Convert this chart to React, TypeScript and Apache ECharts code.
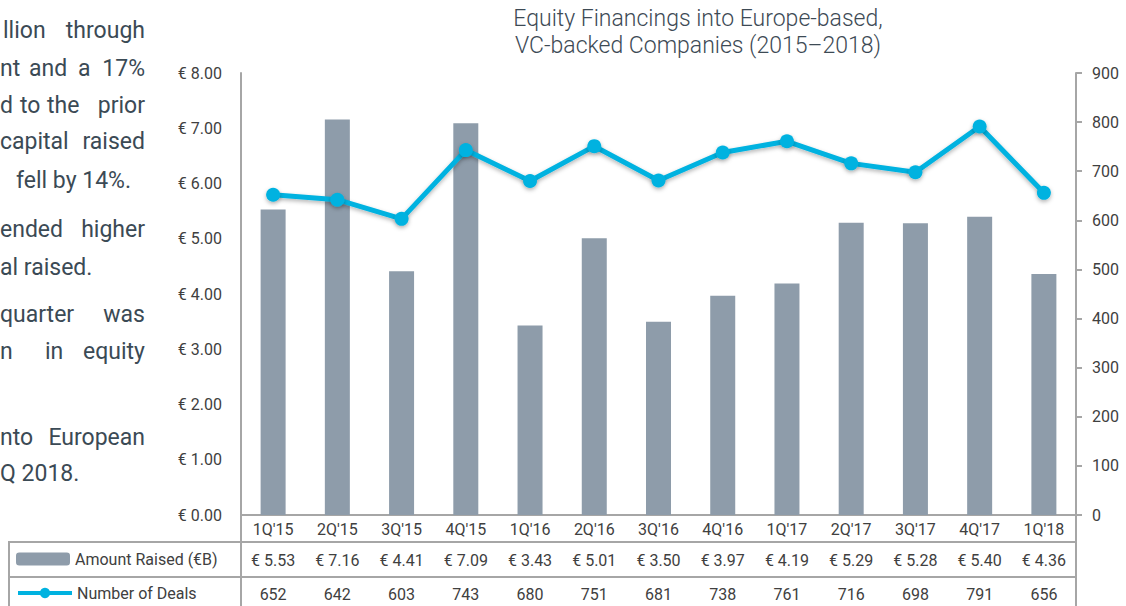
import React, { useEffect, useRef } from "react";
import * as echarts from "echarts";

const quarters = ["1Q'15", "2Q'15", "3Q'15", "4Q'15", "1Q'16", "2Q'16", "3Q'16", "4Q'16", "1Q'17", "2Q'17", "3Q'17", "4Q'17", "1Q'18"];
const amountRaised = [5.53, 7.16, 4.41, 7.09, 3.43, 5.01, 3.5, 3.97, 4.19, 5.29, 5.28, 5.4, 4.36];
const numberOfDeals = [652, 642, 603, 743, 680, 751, 681, 738, 761, 716, 698, 791, 656];
const titleLines = ["Equity Financings into Europe-based,", "VC-backed Companies (2015\u20132018)"];
const seriesNames = ["Amount Raised (\u20acB)", "Number of Deals"];

// side paragraph fragments (justified text clipped at the page's left edge)
// each word: [text, anchor x, align]
type Word = [string, number, "left" | "right"];
const sideLines: { y: number; words: Word[] }[] = [
  { y: 30, words: [["llion", 3, "left"], ["through", 145, "right"]] },
  { y: 68, words: [["nt", 0, "left"], ["and", 29, "left"], ["a", 78, "left"], ["17%", 145, "right"]] },
  { y: 105, words: [["d", 0, "left"], ["to", 20, "left"], ["the", 47, "left"], ["prior", 145, "right"]] },
  { y: 141, words: [["capital", 0, "left"], ["raised", 145, "right"]] },
  { y: 180, words: [["fell by 14%.", 131, "right"]] },
  { y: 229, words: [["ended", 0, "left"], ["higher", 145, "right"]] },
  { y: 267, words: [["al raised.", 0, "left"]] },
  { y: 314, words: [["quarter", 0, "left"], ["was", 145, "right"]] },
  { y: 351, words: [["n", 0, "left"], ["in", 45, "left"], ["equity", 145, "right"]] },
  { y: 437, words: [["nto", 0, "left"], ["European", 145, "right"]] },
  { y: 473, words: [["Q 2018.", 0, "left"]] },
];

const BAR = "#8e9caa";
const LINE = "#00b2e0";
const GRID_LINE = "#a6a6a6";
const TXT = "#404040";

export default function App() {
  const ref = useRef<HTMLDivElement>(null);
  useEffect(() => {
    if (!ref.current) return;
    const chart = echarts.init(ref.current, undefined, { renderer: "svg" });
    const fontFamily = "Roboto, 'Noto Sans', sans-serif";
    const tableLine = (x1: number, y1: number, x2: number, y2: number) => ({
      type: "line",
      shape: { x1, y1, x2, y2 },
      style: { stroke: GRID_LINE, lineWidth: 2 },
      z: 10,
    });
    const sideTexts: any[] = [];
    sideLines.forEach((line) => {
      line.words.forEach(([t, x, align]) => {
        sideTexts.push({
          type: "text",
          x,
          y: line.y,
          style: { text: t, align, verticalAlign: "middle", fill: "#3b4a55", font: `23px ${fontFamily}` },
        });
      });
    });
    const graphics: any[] = [
      tableLine(9, 542, 1076, 542),
      tableLine(9, 577, 1076, 577),
      tableLine(9, 541, 9, 606),
      tableLine(241, 515, 241, 606),
      tableLine(1076, 515, 1076, 606),
      {
        type: "text",
        x: 698,
        y: 5,
        style: {
          text: titleLines.join("\n"),
          align: "center",
          fill: "#3d4a55",
          font: `300 23px ${fontFamily}`,
          lineHeight: 27,
        },
      },
      ...sideTexts,
    ];
    const tableAxis = (data: string[], offset: number) => ({
      type: "category",
      data,
      position: "bottom",
      offset,
      axisLine: { show: false },
      axisTick: { show: false },
      axisLabel: { margin: 5, fontSize: 16, color: TXT, fontFamily, interval: 0 },
      splitLine: { show: false },
    });
    const legendBase = {
      orient: "horizontal",
      left: 16,
      itemWidth: 54,
      itemHeight: 13,
      padding: 0,
      textStyle: { fontSize: 16, color: TXT, fontFamily },
    };
    chart.setOption({
      animation: false,
      backgroundColor: "#ffffff",
      textStyle: { fontFamily },
      grid: { left: 241, right: 50, top: 73, bottom: 91 },
      legend: [
        { ...legendBase, top: 551, data: [seriesNames[0]] },
        { ...legendBase, top: 585, data: [seriesNames[1]], lineStyle: { width: 4 } },
      ],
      xAxis: [
        {
          type: "category",
          data: quarters,
          axisLine: { show: true, lineStyle: { color: GRID_LINE, width: 2 } },
          axisTick: { show: false },
          axisLabel: { margin: 6, fontSize: 16, color: TXT, fontFamily, interval: 0 },
        },
        tableAxis(amountRaised.map((v) => "\u20ac " + v.toFixed(2)), 32),
        tableAxis(numberOfDeals.map((v) => String(v)), 66),
      ],
      yAxis: [
        {
          type: "value",
          min: 0,
          max: 8,
          interval: 1,
          axisLine: { show: true, lineStyle: { color: GRID_LINE, width: 2 } },
          axisTick: { show: false },
          splitLine: { show: false },
          axisLabel: {
            margin: 19,
            fontSize: 16,
            color: TXT,
            fontFamily,
            formatter: (v: number) => "\u20ac " + v.toFixed(2),
          },
        },
        {
          type: "value",
          min: 0,
          max: 900,
          interval: 100,
          position: "right",
          axisLine: { show: true, lineStyle: { color: GRID_LINE, width: 2 } },
          axisTick: { show: true, length: 6, lineStyle: { color: GRID_LINE, width: 2 } },
          splitLine: { show: false },
          axisLabel: { margin: 16, fontSize: 16, color: TXT, fontFamily },
        },
      ],
      series: [
        {
          name: seriesNames[0],
          type: "bar",
          data: amountRaised,
          barWidth: 25,
          itemStyle: { color: BAR },
          xAxisIndex: 0,
          yAxisIndex: 0,
        },
        {
          name: seriesNames[1],
          type: "line",
          data: numberOfDeals,
          xAxisIndex: 0,
          yAxisIndex: 1,
          symbol: "circle",
          symbolSize: 14,
          lineStyle: {
            color: LINE,
            width: 5,
            shadowColor: "rgba(0,0,0,0.3)",
            shadowBlur: 4,
            shadowOffsetY: 2,
          },
          itemStyle: { color: LINE, shadowColor: "rgba(0,0,0,0.3)", shadowBlur: 4, shadowOffsetY: 2 },
          z: 5,
        },
      ],
      graphic: graphics,
    });
    return () => chart.dispose();
  }, []);
  return <div ref={ref} style={{ position: "fixed", left: 0, top: 0, width: 1126, height: 606 }} />;
}
